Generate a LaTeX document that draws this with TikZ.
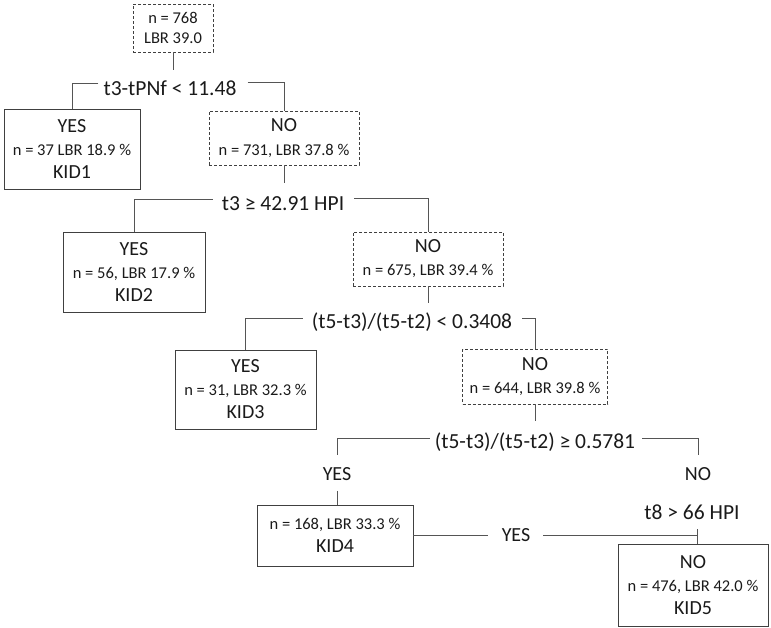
\documentclass[tikz,border=0pt]{standalone}
\usepackage{fontspec}
\setmainfont{Carlito}
\definecolor{lc}{HTML}{555555}
\definecolor{bc}{HTML}{404040}
\definecolor{tc}{HTML}{1A1A1A}
\newcommand\fBigT{\fontsize{20}{23}\selectfont}
\newcommand\fSmT{\fontsize{16.5}{23}\selectfont}
\newcommand\fRootT{\fontsize{16.5}{20}\selectfont}
\newcommand\fCondT{\fontsize{21.5}{24}\selectfont}
\begin{document}
\begin{tikzpicture}[x=1pt,y=-1pt,
  lw/.style={draw=lc, line width=0.8pt},
  leaf/.style={draw=bc, line width=0.8pt, align=center, inner sep=0pt, text=tc, font=\fBigT},
  inner/.style={leaf, dash pattern=on 3pt off 2pt},
  cond/.style={font=\fCondT, inner sep=0pt, text=tc},
  lab/.style={font=\fBigT, inner sep=0pt, text=tc}]
\useasboundingbox (0,0) rectangle (771,627);

% nodes
\node[inner, font=\fRootT, minimum width=80pt, minimum height=48pt] (root) at (173,28) {n = 768\\LBR 39.0};
\node[cond] (c1) at (170,88) {t3-tPNf < 11.48};
\node[leaf, minimum width=136pt, minimum height=80pt] (kid1) at (72,149) {YES\\\fSmT n = 37 LBR 18.9 \%\\\fBigT KID1};
\node[inner, minimum width=150pt, minimum height=54pt] (no1) at (284,138) {NO\\[1pt]\fSmT n = 731, LBR 37.8 \%};
\node[cond] (c2) at (283,204) {t3 ≥ 42.91 HPI};
\node[leaf, minimum width=142pt, minimum height=80pt] (kid2) at (134,272) {YES\\\fSmT n = 56, LBR 17.9 \%\\\fBigT KID2};
\node[inner, minimum width=150pt, minimum height=54pt] (no2) at (428,259) {NO\\\fSmT n = 675, LBR 39.4 \%};
\node[cond] (c3) at (412,322) {(t5-t3)/(t5-t2) < 0.3408};
\node[leaf, minimum width=141pt, minimum height=79pt] (kid3) at (245.5,389.5) {YES\\\fSmT n = 31, LBR 32.3 \%\\\fBigT KID3};
\node[inner, minimum width=145pt, minimum height=55pt] (no3) at (535,376.5) {NO\\\fSmT n = 644, LBR 39.8 \%};
\node[cond] (c4) at (535,442) {(t5-t3)/(t5-t2) ≥ 0.5781};
\node[lab] (ylab4) at (337,474) {YES};
\node[lab] (nlab4) at (698,474) {NO};
\node[leaf, minimum width=156pt, minimum height=61pt] (kid4) at (335,535.5) {\fSmT n = 168, LBR 33.3 \%\\\fBigT KID4};
\node[cond] (t8) at (692,512) {t8 > 66 HPI};
\node[lab] (yes5) at (516,535.5) {YES};
\node[leaf, minimum width=150pt, minimum height=82pt] (kid5) at (693,585) {NO\\\fSmT n = 476, LBR 42.0 \%\\\fBigT KID5};
\coordinate (tk) at (697,529);

% connectors
\draw[lw] (root.south) -- ++(0,18);
\draw[lw] ([xshift=-5pt,yshift=5pt]c1.west) -| (kid1.north);
\draw[lw] ([xshift=11pt,yshift=6pt]c1.east) -| (no1.north);
\draw[lw] (no1.south) -- ++(0,18);
\draw[lw] ([xshift=-9pt,yshift=5pt]c2.west) -| (kid2.north);
\draw[lw] ([xshift=10pt,yshift=6pt]c2.east) -| (no2.north);
\draw[lw] (no2.south) -- ++(0,17);
\draw[lw] ([xshift=-9pt,yshift=4pt]c3.west) -| (kid3.north);
\draw[lw] ([xshift=10pt,yshift=4pt]c3.east) -| (no3.north);
\draw[lw] (no3.south) -- ++(0,17);
\draw[lw] ([xshift=-5pt,yshift=4pt]c4.west) -| ([yshift=12pt]ylab4.north);
\draw[lw] ([xshift=7pt,yshift=4pt]c4.east) -| ([yshift=12pt]nlab4.north);
\draw[lw] ([yshift=-10pt]ylab4.south) -- (ylab4.south |- kid4.north);
\draw[lw] (kid4.east) -- ([xshift=-14pt]yes5.west);
\draw[lw] ([xshift=13pt]yes5.east) -- (yes5.east -| tk);
\draw[lw] (tk) -- (tk |- kid5.north);
\end{tikzpicture}
\end{document}
